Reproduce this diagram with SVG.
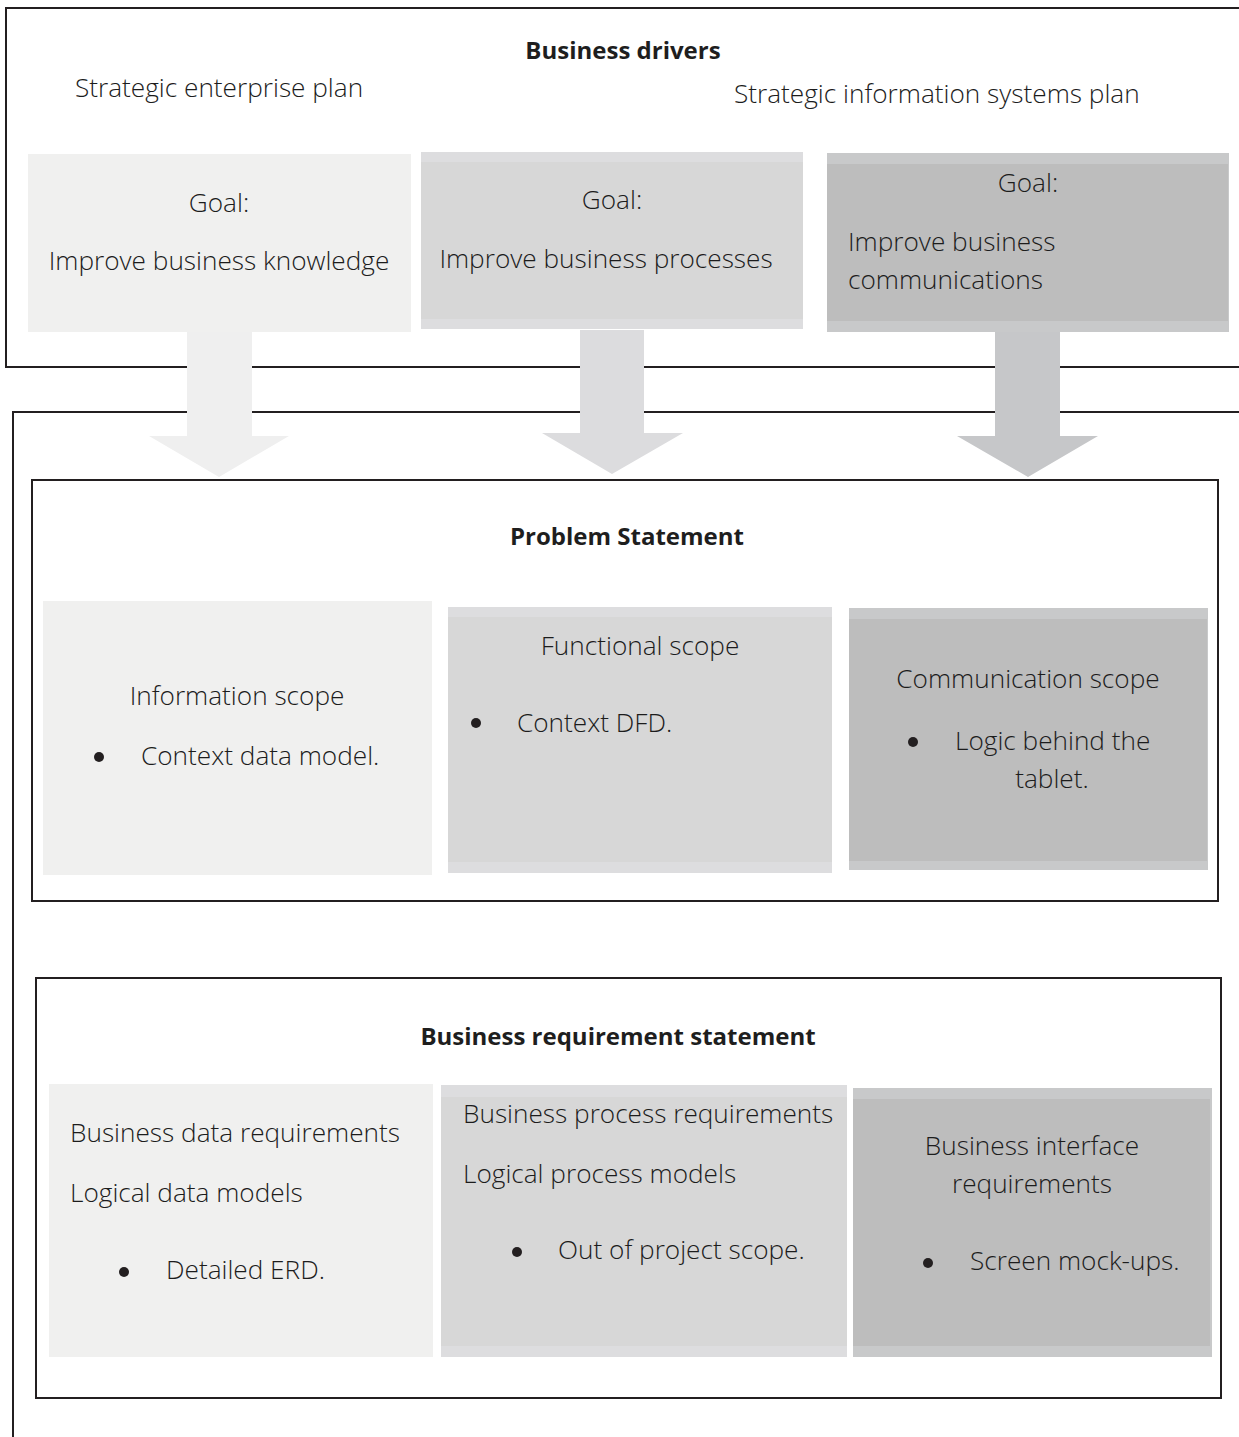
<svg xmlns="http://www.w3.org/2000/svg" width="1239" height="1437" viewBox="0 0 1239 1437">
<style>
.frame{fill:none;stroke:#231f20;stroke-width:2}
.t{font-family:"Open Sans","Noto Sans",sans-serif;font-size:26.2px;font-weight:300;fill:#1c1c1c}
.c{text-anchor:middle}
.b{font-family:"Open Sans","Noto Sans",sans-serif;font-size:24px;font-weight:700;fill:#1e1e1e;text-anchor:middle}
.l1{fill:#f0f0ef}
.l2o{fill:#dddddf}
.l2i{fill:#d7d7d7}
.l3o{fill:#c8c9ca}
.l3i{fill:#bdbdbd}
.dot{fill:#231f20}
</style>
<rect width="1239" height="1437" fill="#ffffff"/>

<g id="business-drivers">
<rect class="frame" x="6" y="8" width="1250" height="359"/>
<text class="b" x="623" y="59">Business drivers</text>
<text class="t" x="75" y="97">Strategic enterprise plan</text>
<text class="t" x="734" y="103">Strategic information systems plan</text>
</g>

<g id="outer-frame">
<path class="frame" d="M1245 412 H13 V1440"/>
</g>

<g id="goal-knowledge">
<rect class="l1" x="28" y="154" width="383" height="178"/>
<text class="t c" x="219" y="212">Goal:</text>
<text class="t c" x="219" y="270">Improve business knowledge</text>
</g>

<g id="goal-processes">
<rect class="l2o" x="421" y="152" width="382" height="177"/>
<rect class="l2i" x="421" y="162" width="382" height="157"/>
<text class="t c" x="612" y="209">Goal:</text>
<text class="t c" x="606" y="268">Improve business processes</text>
</g>

<g id="goal-communications">
<rect class="l3o" x="827" y="153" width="402" height="179"/>
<rect class="l3i" x="827" y="164" width="401" height="157"/>
<text class="t c" x="1028" y="192">Goal:</text>
<text class="t" x="848" y="251">Improve business</text>
<text class="t" x="848" y="289">communications</text>
</g>

<g id="connectors">
<path fill="#efefef" d="M187 332 H252 V436 H289 L219 477 L149 436 H187 Z"/>
<path fill="#dcdcde" d="M580 330 H644 V433 H683 L612 474 L542 433 H580 Z"/>
<path fill="#c6c7c9" d="M995 332 H1060 V436 H1098 L1028 477 L957 436 H995 Z"/>
</g>

<g id="problem-statement">
<rect class="frame" x="32" y="480" width="1186" height="421"/>
<text class="b" x="627" y="545">Problem Statement</text>
</g>

<g id="information-scope">
<rect class="l1" x="43" y="601" width="389" height="274"/>
<text class="t c" x="237" y="705">Information scope</text>
<circle class="dot" cx="99" cy="757" r="5"/>
<text class="t" x="141" y="765">Context data model.</text>
</g>

<g id="functional-scope">
<rect class="l2o" x="448" y="607" width="384" height="266"/>
<rect class="l2i" x="448" y="617" width="384" height="245"/>
<text class="t c" x="640" y="655">Functional scope</text>
<circle class="dot" cx="476" cy="723" r="5"/>
<text class="t" x="517" y="732">Context DFD.</text>
</g>

<g id="communication-scope">
<rect class="l3o" x="849" y="608" width="359" height="262"/>
<rect class="l3i" x="849" y="619" width="358" height="242"/>
<text class="t c" x="1028" y="688">Communication scope</text>
<circle class="dot" cx="913" cy="742" r="5"/>
<text class="t" x="955" y="750">Logic behind the</text>
<text class="t c" x="1052" y="788">tablet.</text>
</g>

<g id="business-requirement-statement">
<rect class="frame" x="36" y="978" width="1185" height="420"/>
<text class="b" x="618" y="1045">Business requirement statement</text>
</g>

<g id="business-data-requirements">
<rect class="l1" x="49" y="1084" width="384" height="273"/>
<text class="t" x="70" y="1142">Business data requirements</text>
<text class="t" x="70" y="1202">Logical data models</text>
<circle class="dot" cx="124" cy="1272" r="5"/>
<text class="t" x="166" y="1279">Detailed ERD.</text>
</g>

<g id="business-process-requirements">
<rect class="l2o" x="441" y="1085" width="406" height="272"/>
<rect class="l2i" x="441" y="1097" width="406" height="249"/>
<text class="t" x="463" y="1123">Business process requirements</text>
<text class="t" x="463" y="1183">Logical process models</text>
<circle class="dot" cx="517" cy="1252" r="5"/>
<text class="t" x="558" y="1259">Out of project scope.</text>
</g>

<g id="business-interface-requirements">
<rect class="l3o" x="853" y="1088" width="359" height="269"/>
<rect class="l3i" x="853" y="1099" width="357" height="247"/>
<text class="t c" x="1032" y="1155">Business interface</text>
<text class="t c" x="1032" y="1193">requirements</text>
<circle class="dot" cx="928" cy="1263" r="5"/>
<text class="t" x="970" y="1270">Screen mock-ups.</text>
</g>
</svg>
